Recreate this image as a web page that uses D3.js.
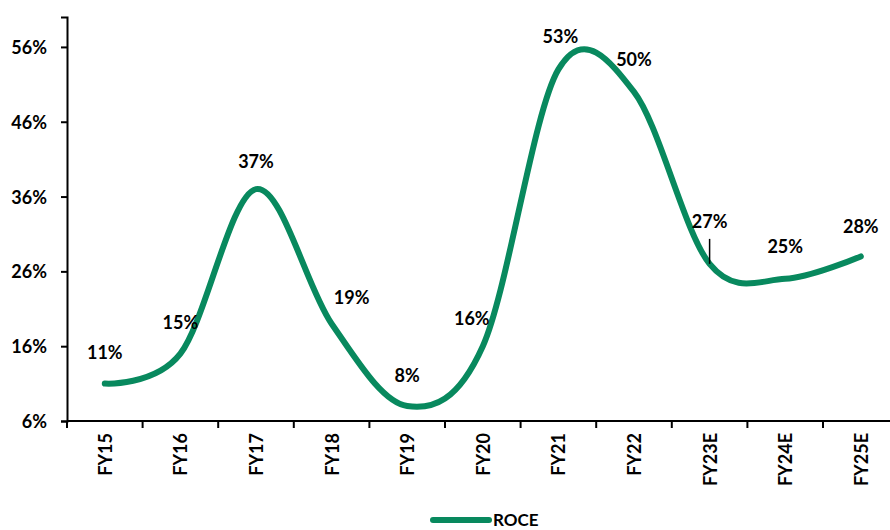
<!DOCTYPE html>
<html>
<head>
<meta charset="utf-8">
<script src="https://cdn.jsdelivr.net/npm/d3@7"></script>
<style>
  html, body { margin: 0; padding: 0; background: #fff; }
  svg { display: block; }
  text { font-family: Lato, "Open Sans", sans-serif; font-weight: 700; fill: #000; }
</style>
</head>
<body>
<svg id="chart" width="890" height="530"></svg>
<script>
// ROCE by fiscal year (percent)
const years = ["FY15", "FY16", "FY17", "FY18", "FY19", "FY20", "FY21", "FY22", "FY23E", "FY24E", "FY25E"];
const roce = [11, 15, 37, 19, 8, 16, 53, 50, 27, 25, 28];
const yTicks = [6, 16, 26, 36, 46, 56];
const seriesName = "ROCE";

// label nudges (dx, dy) from each point, in px
const labelNudge = [
  [0, -31], [0, -31], [0, -28], [20, -26], [0, -31], [-11, -28],
  [2, -33], [0, -32], [0, -42], [0, -32], [0, -30]
];

const green = "#08895e";
const svg = d3.select("#chart");

const plotLeft = 67, plotTop = 17, plotBottom = 421, step = 75.6;
const x = d3.scaleBand().domain(years).range([plotLeft, plotLeft + step * years.length]).paddingInner(0).paddingOuter(0);
const y = d3.scaleLinear().domain([6, 60]).range([plotBottom, plotTop]);

// y axis
const yAxis = svg.append("g")
  .attr("transform", `translate(${plotLeft},0)`)
  .call(d3.axisLeft(y).tickValues(yTicks).tickSize(6).tickPadding(14).tickFormat(d => d + "%"));
yAxis.select(".domain").attr("stroke", "#000").attr("stroke-width", 2);
yAxis.selectAll(".tick line").attr("stroke", "#000").attr("stroke-width", 2);
yAxis.selectAll(".tick text").style("font-size", "18px").attr("dy", "0.36em");

// x axis with ticks between categories
const xAxis = svg.append("g").attr("transform", `translate(0,${plotBottom})`);
xAxis.append("line")
  .attr("x1", plotLeft).attr("x2", plotLeft + step * years.length)
  .attr("stroke", "#000").attr("stroke-width", 2);
const bounds = d3.range(years.length + 1).map(i => i === years.length ? x.range()[1] : x(years[i]));
xAxis.selectAll(".xt").data(bounds).join("line")
  .attr("class", "xt")
  .attr("x1", d => d).attr("x2", d => d)
  .attr("y1", 0).attr("y2", 7)
  .attr("stroke", "#000").attr("stroke-width", 2);
xAxis.selectAll(".xl").data(years).join("text")
  .attr("class", "xl")
  .attr("transform", d => `translate(${x(d) + x.bandwidth() / 2 + 7},12) rotate(-90)`)
  .attr("text-anchor", "end")
  .style("font-size", "18px")
  .text(d => d);

// smoothed line
const pts = years.map((d, i) => [x(d) + x.bandwidth() / 2, y(roce[i])]);
svg.append("path")
  .attr("d", d3.line().curve(d3.curveCardinal.tension(0))(pts))
  .attr("fill", "none")
  .attr("stroke", green)
  .attr("stroke-width", 6)
  .attr("stroke-linecap", "round")
  .attr("stroke-linejoin", "round");

// data labels
svg.selectAll(".dl").data(roce).join("text")
  .attr("class", "dl")
  .attr("x", (d, i) => pts[i][0] + labelNudge[i][0])
  .attr("y", (d, i) => pts[i][1] + labelNudge[i][1] + 6.5)
  .attr("text-anchor", "middle")
  .style("font-size", "18px")
  .text(d => d + "%");

// leader line for the lifted FY23E label
const li = years.indexOf("FY23E");
svg.append("line")
  .attr("x1", pts[li][0]).attr("x2", pts[li][0])
  .attr("y1", pts[li][1] - 25).attr("y2", pts[li][1])
  .attr("stroke", "#000").attr("stroke-width", 1.5);

// legend
const lg = svg.append("g").attr("transform", "translate(433,520)");
lg.append("line").attr("x1", 0).attr("x2", 56).attr("y1", 0).attr("y2", 0)
  .attr("stroke", green).attr("stroke-width", 6).attr("stroke-linecap", "round");
lg.append("text").attr("x", 60).attr("y", 6).style("font-size", "17px").text(seriesName);
</script>
</body>
</html>
